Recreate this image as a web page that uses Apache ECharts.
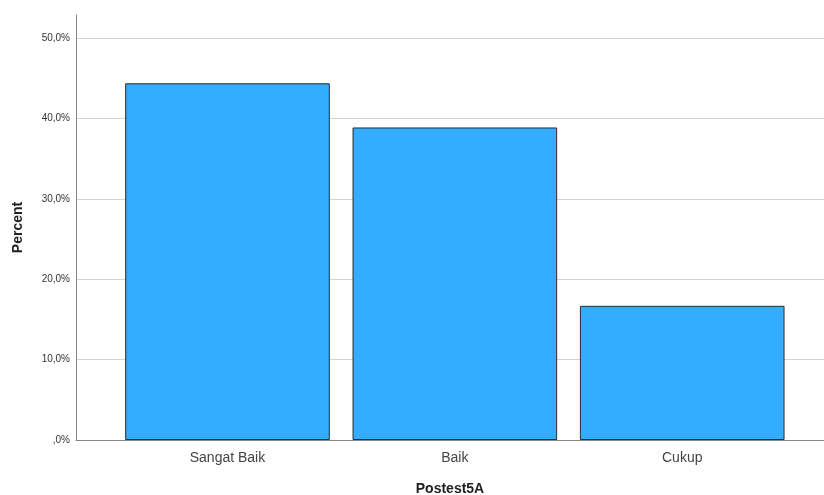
<!DOCTYPE html>
<html><head><meta charset="utf-8">
<script src="https://cdn.jsdelivr.net/npm/echarts@6/dist/echarts.min.js"></script>
<style>html,body{margin:0;padding:0;background:#fff}#c{width:824px;height:495px}</style>
</head><body><div id="c"></div>
<script>
const categories = ['Sangat Baik', 'Baik', 'Cukup'];
const percentValues = [44.4, 38.9, 16.7];
const yTicks = [0, 10, 20, 30, 40, 50];
const yMax = 52.9;
const xTitle = 'Postest5A';
const yTitle = 'Percent';

const fmt = v => v === 0 ? ',0%' : v.toFixed(1).replace('.', ',') + '%';
const chart = echarts.init(document.getElementById('c'));
chart.setOption({
  animation: false,
  backgroundColor: '#fff',
  grid: [
    {left: 76, right: 0, top: 15, bottom: 55, containLabel: false, outerBoundsMode: 'none'},
    {left: 113.8, right: 28.1, top: 15, bottom: 55, containLabel: false, outerBoundsMode: 'none'}
  ],
  xAxis: [
    {gridIndex: 0, type: 'value', min: 0, max: 1, axisLine: {show: true, lineStyle: {color: '#888', width: 1}},
     axisTick: {show: false}, axisLabel: {show: false}, splitLine: {show: false},
     name: xTitle, nameLocation: 'middle', nameGap: 42,
     nameTextStyle: {fontFamily: 'Liberation Sans, Arial', fontSize: 14, fontWeight: 'bold', color: '#222'}},
    {gridIndex: 1, type: 'category', data: categories, axisLine: {show: false}, axisTick: {show: false},
     axisLabel: {fontFamily: 'Liberation Sans, Arial', fontSize: 14, color: '#444', margin: 11}}
  ],
  yAxis: [
    {gridIndex: 0, type: 'value', min: 0, max: yMax, interval: 10,
     axisLine: {show: true, lineStyle: {color: '#888', width: 1}}, axisTick: {show: false},
     axisLabel: {fontFamily: 'Liberation Sans, Arial', fontSize: 10, color: '#333', margin: 6,
       formatter: v => yTicks.includes(v) ? fmt(v) : ''},
     splitLine: {show: true, showMaxLine: false, lineStyle: {color: '#d4d4d4', width: 1}},
     name: yTitle, nameLocation: 'middle', nameGap: 51, nameRotate: 90,
     nameTextStyle: {fontFamily: 'Liberation Sans, Arial', fontSize: 14, fontWeight: 'bold', color: '#222'}},
    {gridIndex: 1, type: 'value', min: 0, max: yMax, show: false}
  ],
  series: [{
    type: 'bar', xAxisIndex: 1, yAxisIndex: 1, data: percentValues,
    barCategoryGap: '10%',
    itemStyle: {color: '#33adff', borderColor: '#2b2b2b', borderWidth: 1}
  }]
});
</script></body></html>
